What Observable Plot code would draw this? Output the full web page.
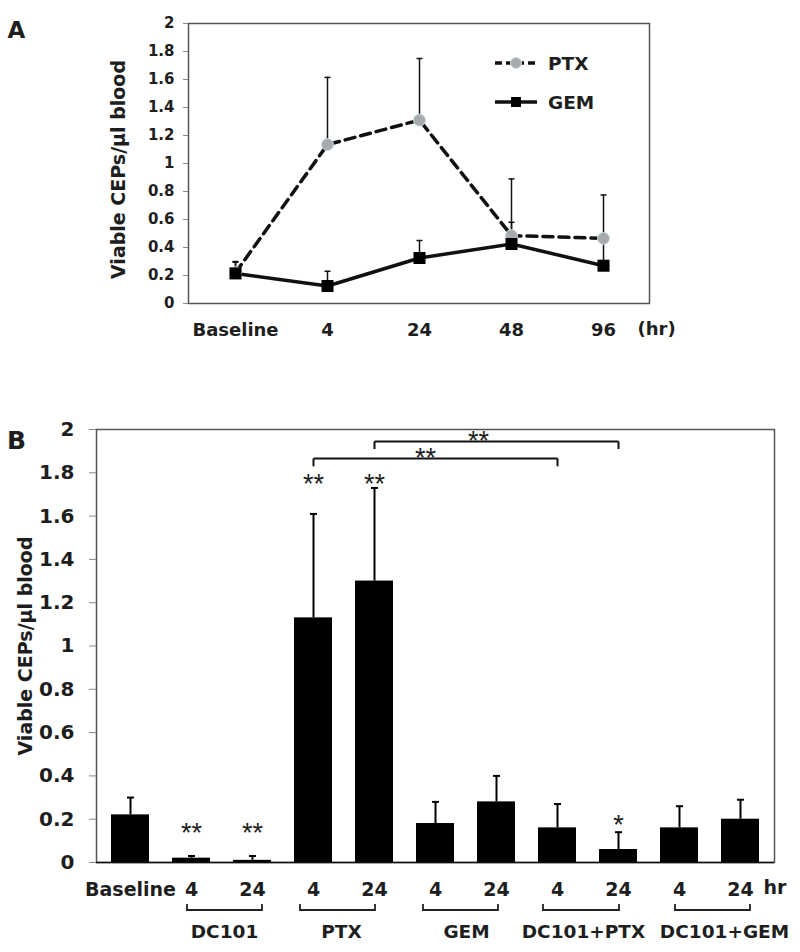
<!DOCTYPE html>
<html><head><meta charset="utf-8">
<script src="https://cdn.jsdelivr.net/npm/d3@7"></script>
<script src="https://cdn.jsdelivr.net/npm/@observablehq/plot@0.6"></script>
<style>
body{margin:0;background:#fff;}
#fig{position:relative;width:800px;height:952px;background:#fff;overflow:hidden;}
#a{position:absolute;left:0;top:0;}
#b{position:absolute;left:0;top:350px;}
</style></head><body><div id="fig"><div id="a"></div><div id="b"></div></div>
<script>
// ---------- Panel A data ----------
const timesA = ["Baseline", "4", "24", "48", "96"];
const ptxMean = [0.22, 1.135, 1.31, 0.485, 0.465];
const ptxSD   = [0.08, 0.48, 0.44, 0.405, 0.31];
const gemMean = [0.215, 0.125, 0.325, 0.425, 0.27];
const gemSD   = [0.08, 0.105, 0.125, 0.155, 0.19];
const seriesNames = ["PTX", "GEM"];
const yTicks = [0, 0.2, 0.4, 0.6, 0.8, 1, 1.2, 1.4, 1.6, 1.8, 2];
const yTickLabels = ["0", "0.2", "0.4", "0.6", "0.8", "1", "1.2", "1.4", "1.6", "1.8", "2"];
const yLabel = "Viable CEPs/µl blood";

// ---------- Panel B data ----------
const bGroups = ["Baseline", "DC101", "DC101", "PTX", "PTX", "GEM", "GEM", "DC101+PTX", "DC101+PTX", "DC101+GEM", "DC101+GEM"];
const bTimes  = ["Baseline", "4", "24", "4", "24", "4", "24", "4", "24", "4", "24"];
const bMeans  = [0.22, 0.02, 0.01, 1.13, 1.30, 0.18, 0.28, 0.16, 0.06, 0.16, 0.20];
const bSD     = [0.08, 0.01, 0.02, 0.48, 0.43, 0.10, 0.12, 0.11, 0.08, 0.10, 0.09];
const bStars  = ["", "**", "**", "**", "**", "", "", "", "*", "", ""];
const bStarY  = [null, 0.166, 0.166, 1.778, 1.778, null, null, null, 0.203, null, null];
const treatGroups = ["DC101", "PTX", "GEM", "DC101+PTX", "DC101+GEM"];
const compFrom  = [3, 4];
const compTo    = [7, 8];
const compY     = [1.866, 1.945];
const compTickY = [1.83, 1.91];
const compLabel = ["**", "**"];
const compLabelAt = [5, 6];

const tickFmt = d => yTickLabels[yTicks.indexOf(d)];
const capSymbol = {draw(ctx, size) { const r = Math.sqrt(size / Math.PI); ctx.moveTo(-r, 0); ctx.lineTo(r, 0); }};
const FONT = "DejaVu Sans";
const INK = "#1e1e1e";

// ---------- Panel A ----------
const ptx = timesA.map((t, i) => ({t, mean: ptxMean[i], top: ptxMean[i] + ptxSD[i]}));
const gem = timesA.map((t, i) => ({t, mean: gemMean[i], top: gemMean[i] + gemSD[i]}));

const chartA = Plot.plot({
  width: 800, height: 350,
  marginLeft: 188, marginRight: 151, marginTop: 23, marginBottom: 47,
  style: {fontFamily: FONT, fontWeight: "bold", color: INK, background: "white", overflow: "visible"},
  x: {type: "point", domain: timesA, padding: 0.5},
  y: {domain: [0, 2]},
  marks: [
    Plot.frame({stroke: "#555", strokeWidth: 1.5}),
    Plot.axisY({ticks: yTicks, tickFormat: tickFmt, tickSize: 5, tickPadding: 9, fontSize: 15, stroke: "#888", label: null}),
    Plot.axisX({tickSize: 0, tickPadding: 20, fontSize: 18, label: null}),
    Plot.text([yLabel], {frameAnchor: "left", textAnchor: "middle", rotate: -90, dx: -70, dy: 6, fontSize: 19, fill: INK}),
    Plot.text(["A"], {frameAnchor: "top-left", textAnchor: "middle", dx: -172, dy: -2, fontSize: 23, fill: INK}),
    Plot.text(["(hr)"], {frameAnchor: "bottom-right", textAnchor: "start", dx: -12, dy: 31, fontSize: 18, fill: INK}),
    Plot.ruleX(ptx, {x: "t", y1: "mean", y2: "top", stroke: "#111", strokeWidth: 1.5}),
    Plot.dot(ptx, {x: "t", y: "top", symbol: capSymbol, r: 3, fill: "none", stroke: "#111", strokeWidth: 1.5}),
    Plot.ruleX(gem, {x: "t", y1: "mean", y2: "top", stroke: "#111", strokeWidth: 1.5}),
    Plot.dot(gem, {x: "t", y: "top", symbol: capSymbol, r: 3, fill: "none", stroke: "#111", strokeWidth: 1.5}),
    Plot.line(ptx, {x: "t", y: "mean", stroke: "#111", strokeWidth: 3.5, strokeDasharray: "10,6"}),
    Plot.line(gem, {x: "t", y: "mean", stroke: "#111", strokeWidth: 3.5}),
    Plot.dot(ptx, {x: "t", y: "mean", r: 6, fill: "#a7abae", stroke: "#c9e0e2", strokeWidth: 1}),
    Plot.dot(gem, {x: "t", y: "mean", symbol: "square", r: 6.8, fill: "#000"})
  ]
});
document.getElementById("a").append(chartA);

// legend for panel A
{
  const svg = d3.select(chartA);
  const g = svg.append("g").attr("font-family", FONT).attr("font-weight", "bold").attr("font-size", 18.5)
    .attr("fill", INK).attr("text-anchor", "start");
  const rows = [{name: seriesNames[0], y: 63, dash: "7,4"}, {name: seriesNames[1], y: 102, dash: null}];
  for (const r of rows) {
    g.append("line").attr("x1", 495).attr("x2", 537).attr("y1", r.y).attr("y2", r.y)
      .attr("stroke", "#111").attr("stroke-width", 3.5).attr("stroke-dasharray", r.dash);
    if (r.dash) g.append("circle").attr("cx", 516).attr("cy", r.y).attr("r", 5.5).attr("fill", "#a7abae").attr("stroke", "#c9e0e2");
    else g.append("rect").attr("x", 511).attr("y", r.y - 5).attr("width", 10).attr("height", 10).attr("fill", "#000");
    g.append("text").attr("x", 548).attr("y", r.y).attr("dy", "0.36em").attr("text-anchor", "start").text(r.name);
  }
}

// ---------- Panel B ----------
const bKeys = bGroups.map((g, i) => g + "|" + bTimes[i]);
const bData = bKeys.map((k, i) => ({key: k, mean: bMeans[i], top: bMeans[i] + bSD[i], star: bStars[i], starY: bStarY[i]}));
const comps = compFrom.map((f, i) => ({x1: bKeys[f], x2: bKeys[compTo[i]], y: compY[i], ty: compTickY[i], label: compLabel[i], at: bKeys[compLabelAt[i]]}));

const starStyle = {fontFamily: "Liberation Sans", fontWeight: "normal", fontSize: 27, fill: INK};

const chartB = Plot.plot({
  width: 800, height: 602,
  marginLeft: 96, marginRight: 26, marginTop: 79, marginBottom: 90,
  style: {fontFamily: FONT, fontWeight: "bold", color: INK, background: "white", overflow: "visible"},
  x: {type: "band", domain: bKeys, paddingInner: 0.37, paddingOuter: 0.171},
  y: {domain: [0, 2]},
  marks: [
    Plot.frame({stroke: "#555", strokeWidth: 1.5}),
    Plot.axisY({ticks: yTicks, tickFormat: tickFmt, tickSize: 7, tickPadding: 15, fontSize: 20, stroke: "#888", label: null}),
    Plot.axisX({tickSize: 0, tickPadding: 20, fontSize: 19, tickFormat: k => k.split("|")[1], label: null}),
    Plot.text([yLabel], {frameAnchor: "left", textAnchor: "middle", rotate: -90, dx: -71, fontSize: 19, fill: INK}),
    Plot.text(["B"], {frameAnchor: "top-left", textAnchor: "middle", dx: -80, dy: 2, fontSize: 25, fill: INK}),
    Plot.text(["hr"], {frameAnchor: "bottom-right", textAnchor: "start", dx: -11, dy: 31, fontSize: 19, fill: INK}),
    Plot.barY(bData, {x: "key", y: "mean", fill: "#000"}),
    Plot.ruleX(bData, {x: "key", y1: "mean", y2: "top", stroke: "#000", strokeWidth: 2}),
    Plot.dot(bData, {x: "key", y: "top", symbol: capSymbol, r: 3.5, fill: "none", stroke: "#000", strokeWidth: 2}),
    Plot.ruleY([0], {stroke: "#111", strokeWidth: 1.5}),
    Plot.text(bData.filter(d => d.star), {x: "key", y: "starY", text: "star", dy: 7, ...starStyle}),
    Plot.link(comps, {x1: "x1", x2: "x2", y1: "y", y2: "y", stroke: "#111", strokeWidth: 2}),
    Plot.link(comps, {x1: "x1", x2: "x1", y1: "y", y2: "ty", stroke: "#111", strokeWidth: 2}),
    Plot.link(comps, {x1: "x2", x2: "x2", y1: "y", y2: "ty", stroke: "#111", strokeWidth: 2}),
    Plot.text(comps.slice(0, 1), {x: "at", y: "y", text: "label", dx: -10, dy: 0, ...starStyle}),
    Plot.text(comps.slice(1, 2), {x: "at", y: "y", text: "label", dx: -18, dy: 0, ...starStyle})
  ]
});
document.getElementById("b").append(chartB);

// group brackets and names below the x axis of panel B
{
  const sx = chartB.scale("x");
  const half = sx.bandwidth / 2;
  const svg = d3.select(chartB);
  // pixel nudges to follow the reference's hand-placed brackets and labels
  const bracketInset = {"DC101": [-4, 10], "PTX": [-13, 1], "GEM": [-12, 2], "DC101+PTX": [-14, 1], "DC101+GEM": [-4, 10]};
  const labelShift = {"DC101": 3, "PTX": -2, "GEM": 1, "DC101+PTX": -4, "DC101+GEM": 15};
  const g = svg.append("g").attr("font-family", FONT).attr("font-weight", "bold").attr("font-size", 18.5).attr("fill", INK);
  for (const grp of treatGroups) {
    const c4 = sx.apply(grp + "|4") + half;
    const c24 = sx.apply(grp + "|24") + half;
    const [l, r] = bracketInset[grp];
    g.append("path").attr("d", `M${c4 + l},554V560H${c24 + r}V554`).attr("fill", "none").attr("stroke", "#222").attr("stroke-width", 1.8);
    g.append("text").attr("x", (c4 + c24) / 2 + labelShift[grp]).attr("y", 581).attr("dy", "0.36em").attr("text-anchor", "middle").text(grp);
  }
}
</script></body></html>
